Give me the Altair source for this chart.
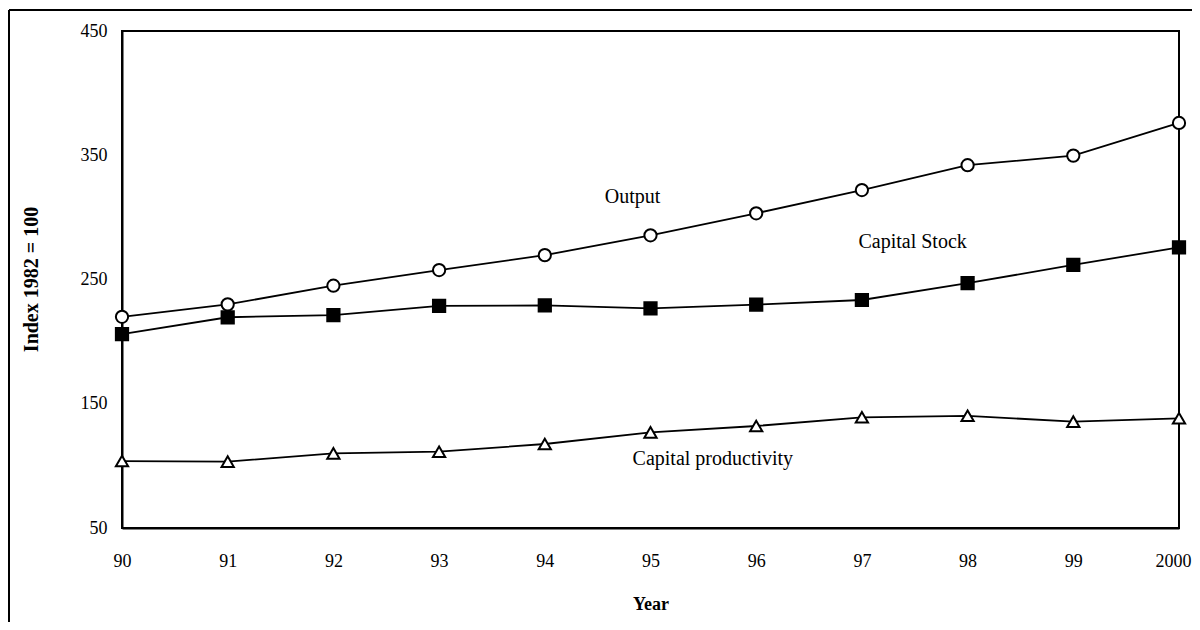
import altair as alt
import pandas as pd

# ---- data ----
years = [1990, 1991, 1992, 1993, 1994, 1995, 1996, 1997, 1998, 1999, 2000]
year_labels = ["90", "91", "92", "93", "94", "95", "96", "97", "98", "99", "2000"]
output = [220, 230, 245, 257.6, 269.6, 285.6, 303.3, 322, 342, 349.7, 376]
capital_stock = [206, 219.6, 221.4, 228.7, 229.2, 226.8, 229.7, 233.5, 247, 261.7, 275.9]
capital_productivity = [103.9, 103.4, 110.1, 111.4, 117.6, 127, 132.1, 139.1, 140.3, 135.6, 138.3]
series_names = ["Output", "Capital Stock", "Capital productivity"]
label_x = [1994.83, 1997.48, 1995.59]
label_y = [311.6, 275.4, 100.7]
y_ticks = [50, 150, 250, 350, 450]

FONT = "Liberation Serif"

rows = []
for name, vals in zip(series_names, [output, capital_stock, capital_productivity]):
    for yr, v in zip(years, vals):
        rows.append({"year": yr, "value": v, "series": name})
df = pd.DataFrame(rows)
labels_df = pd.DataFrame({"series": series_names, "x": label_x, "y": label_y})
frame_df = pd.DataFrame({"a": [0]})

label_expr = "[{}][indexof([{}], datum.value)]".format(
    ",".join("'" + s + "'" for s in year_labels), ",".join(str(y) for y in years)
)
last_test = "datum.value == {}".format(years[-1])

xscale = alt.Scale(domain=[1990, 2000], nice=False, zero=False)
yscale = alt.Scale(domain=[50, 450], nice=False, zero=False)

x_enc = alt.X(
    "year:Q", scale=xscale,
    axis=alt.Axis(values=years, labelExpr=label_expr, title="Year", grid=False,
                  ticks=False, labelPadding=24, labelBaseline="top",
                  labelAlign={"condition": {"test": last_test, "value": "right"}, "value": "center"},
                  labelOffset={"condition": {"test": last_test, "value": 12}, "value": 0},
                  labelFontSize=18, labelFont=FONT, labelColor="black",
                  titleFont=FONT, titleFontSize=18, titleFontWeight="bold",
                  titleColor="black", titleY=81, titleBaseline="alphabetic",
                  domainColor="black", domainWidth=2, labelFlush=False),
)
y_enc = alt.Y(
    "value:Q", scale=yscale,
    axis=alt.Axis(values=y_ticks, title="Index 1982 = 100", grid=False, ticks=False,
                  labelPadding=15, labelFontSize=18, labelFont=FONT, labelColor="black",
                  titleFont=FONT, titleFontSize=20, titleFontWeight="bold",
                  titleColor="black", titleAngle=-90, titleX=-85, titleY=248,
                  titleAlign="center", titleBaseline="alphabetic",
                  domainColor="black", domainWidth=2, labelFlush=False),
)

base = alt.Chart(df)

lines = base.mark_line(color="black", strokeWidth=1.8).encode(
    x=x_enc, y=y_enc, detail="series:N"
)

points = base.mark_point(filled=False, opacity=1, stroke="black", strokeWidth=2).encode(
    x="year:Q", y="value:Q",
    shape=alt.Shape("series:N", scale=alt.Scale(domain=series_names,
                    range=["circle", "square", "triangle-up"]), legend=None),
    fill=alt.Fill("series:N", scale=alt.Scale(domain=series_names,
                  range=["white", "black", "white"]), legend=None),
    size=alt.Size("series:N", scale=alt.Scale(domain=series_names,
                  range=[150, 150, 120]), legend=None),
)

texts = alt.Chart(labels_df).mark_text(
    font=FONT, fontSize=20, color="black", align="center", baseline="alphabetic"
).encode(x="x:Q", y="y:Q", text="series:N")

frame_left = alt.Chart(frame_df).mark_rule(color="black", strokeWidth=2).encode(
    x=alt.value(-113), y=alt.value(-21), y2=alt.value(620)
)
frame_top = alt.Chart(frame_df).mark_rule(color="black", strokeWidth=2).encode(
    x=alt.value(-113), x2=alt.value(1100), y=alt.value(-21)
)

chart = alt.layer(lines, points, texts, frame_left, frame_top).properties(
    width=1057, height=497,
    padding={"left": 114, "top": 23, "right": 13, "bottom": 94},
    autosize=alt.AutoSizeParams(type="none"),
    background="white",
).configure_view(stroke="black", strokeWidth=2)

chart.save("out.html", embed_options={"renderer": "svg", "actions": False})
